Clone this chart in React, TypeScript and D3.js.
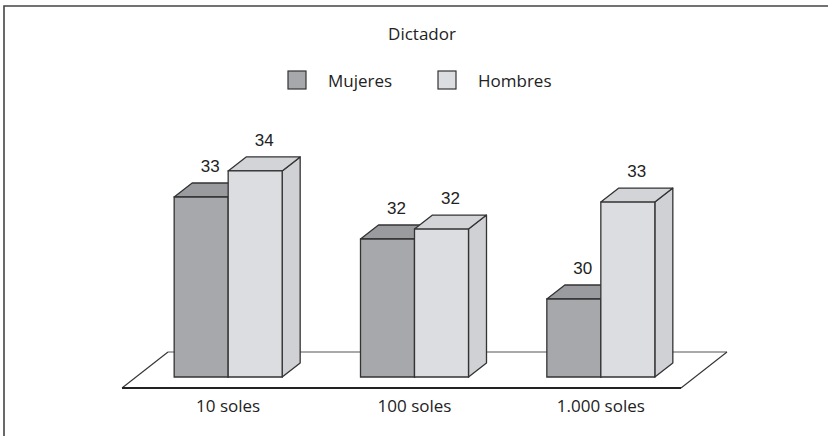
import * as React from "react";
import * as d3 from "d3";

const title = "Dictador";
const categories = ["10 soles", "100 soles", "1.000 soles"];
const seriesNames = ["Mujeres", "Hombres"];
const mujeres = [33.0, 31.6, 29.6];
const hombres = [33.87, 31.93, 32.83];

const width = 828;
const height = 436;
const baseY = 377;
const depthX = 18;
const depthY = 14;

const colors = {
    Mujeres: { front: "#a7a8ab", top: "#9a9b9e", side: "#939497" },
    Hombres: { front: "#dcdde0", top: "#d3d4d7", side: "#d0d1d4" },
} as Record<string, { front: string, top: string, side: string }>;

const labelFont = "Open Sans, DejaVu Sans, sans-serif";
const numFont = "Liberation Sans, Arial, sans-serif";

export default function App() {
    const x0 = d3.scaleBand<string>().domain(categories).range([135, 694]);
    const x1 = d3.scaleBand<string>().domain(seriesNames).range([0, 108]);
    const y = d3.scaleLinear().domain([27, 35]).range([baseY, baseY - 240]);
    const fmt = d3.format(".0f");

    const values: Record<string, number[]> = { Mujeres: mujeres, Hombres: hombres };

    const bars: React.ReactNode[] = [];
    categories.forEach((c, ci) => {
        const gx = (x0(c) || 0) + (x0.bandwidth() - 108) / 2;
        seriesNames.forEach((s) => {
            const v = values[s][ci];
            const xl = gx + (x1(s) || 0);
            const xr = xl + x1.bandwidth();
            const yt = y(v);
            const col = colors[s];
            const front = `M${xl},${yt}H${xr}V${baseY}H${xl}Z`;
            const top = `M${xl},${yt}L${xl + depthX},${yt - depthY}H${xr + depthX}L${xr},${yt}Z`;
            const side = `M${xr},${yt}L${xr + depthX},${yt - depthY}V${baseY - depthY}L${xr},${baseY}Z`;
            bars.push(
                <g key={c + s}>
                    <path d={side} fill={col.side} stroke="#333" strokeWidth={1.3} strokeLinejoin="round" />
                    <path d={top} fill={col.top} stroke="#333" strokeWidth={1.3} strokeLinejoin="round" />
                    <path d={front} fill={col.front} stroke="#333" strokeWidth={1.3} />
                    <text x={(xl + xr) / 2 + depthX / 2} y={yt - depthY - 11} textAnchor="middle"
                        fontFamily={numFont} fontSize={17} fill="#222">{fmt(v)}</text>
                </g>
            );
        });
    });

    // floor parallelogram
    const floorFrontL = 122, floorFrontR = 681, floorFrontY = 388;
    const floorDX = 46, floorDY = 36;

    return <div style={{ position: "absolute", left: 0, top: 0 }}>
        <svg width={width} height={height}>
            <rect x={0} y={0} width={width} height={height} fill="#fff" />
            <path d={`M4,${height + 5}V6H${width + 5}`} fill="none" stroke="#444" strokeWidth={1.6} />

            <text x={422} y={40} textAnchor="middle" fontFamily={labelFont} fontSize={17} fill="#222">{title}</text>

            {seriesNames.map((s, i) => {
                const lx = i === 0 ? 288 : 438;
                return <g key={s}>
                    <rect x={lx} y={71} width={18} height={18} fill={colors[s].front} stroke="#333" strokeWidth={1.2} />
                    <text x={lx + 40} y={87} fontFamily={labelFont} fontSize={17} fill="#222">{s}</text>
                </g>;
            })}

            <path d={`M${floorFrontL},${floorFrontY}L${floorFrontL + floorDX},${floorFrontY - floorDY}H${floorFrontR + floorDX}L${floorFrontR},${floorFrontY}Z`}
                fill="#fff" stroke="none" />
            <path d={`M${floorFrontL + floorDX},${floorFrontY - floorDY}H${floorFrontR + floorDX}`} stroke="#555" strokeWidth={1.2} fill="none" />
            <path d={`M${floorFrontL + floorDX},${floorFrontY - floorDY}L${floorFrontL},${floorFrontY}`} stroke="#333" strokeWidth={1.1} fill="none" />
            <path d={`M${floorFrontR + floorDX},${floorFrontY - floorDY}L${floorFrontR},${floorFrontY}`} stroke="#333" strokeWidth={1.1} fill="none" />
            <path d={`M${floorFrontL},${floorFrontY}H${floorFrontR}`} stroke="#222" strokeWidth={2} fill="none" />

            {bars}

            {categories.map((c) => (
                <text key={c} x={(x0(c) || 0) + x0.bandwidth() / 2} y={412} textAnchor="middle"
                    fontFamily={labelFont} fontSize={17} fill="#222">{c}</text>
            ))}
        </svg>
    </div>;
}
